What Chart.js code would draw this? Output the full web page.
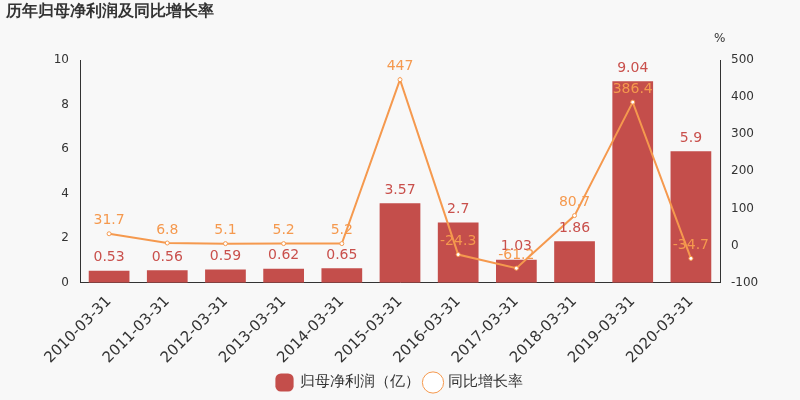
<!DOCTYPE html>
<html><head><meta charset="utf-8">
<script src="https://cdn.jsdelivr.net/npm/chart.js@4"></script>
<style>body{margin:0;background:#f8f8f8}#w{width:800px;height:400px;position:relative}</style>
</head><body><div id="w"><canvas id="c"></canvas></div>
<script>
const categories=['2010-03-31','2011-03-31','2012-03-31','2013-03-31','2014-03-31','2015-03-31','2016-03-31','2017-03-31','2018-03-31','2019-03-31','2020-03-31'];
const profit=[0.53,0.56,0.59,0.62,0.65,3.57,2.7,1.03,1.86,9.04,5.9];
const growth=[31.7,6.8,5.1,5.2,5.2,447,-24.3,-61.2,80.7,386.4,-34.7];
const FONT='"DejaVu Sans", sans-serif';
const labels={id:'labels',afterDatasetsDraw(ch){const c=ch.ctx;c.save();c.font='14px '+FONT;c.textAlign='center';c.textBaseline='bottom';
ch.getDatasetMeta(0).data.forEach((e,i)=>{c.fillStyle='#c9504c';c.fillText(String(profit[i]),e.x,e.y-6);});
ch.getDatasetMeta(1).data.forEach((e,i)=>{c.fillStyle='#f5994e';c.fillText(String(growth[i]),e.x,e.y-6);});
c.fillStyle='#333';c.font='bold 16px '+FONT;c.textAlign='left';c.textBaseline='top';c.fillText('历年归母净利润及同比增长率',6,4);
c.font='12px '+FONT;c.fillText('%',714,33);c.restore();}};
Chart.defaults.font.family=FONT;
new Chart(document.getElementById('c'),{data:{labels:categories,datasets:[
{type:'bar',label:'归母净利润（亿）',data:profit,backgroundColor:'#c44e4b',yAxisID:'y',categoryPercentage:0.7,barPercentage:1,order:2},
{type:'line',label:'同比增长率',data:growth,borderColor:'#f5994e',backgroundColor:'#fff',borderWidth:2,pointRadius:2,pointBorderWidth:1,pointBackgroundColor:'#fff',yAxisID:'y1',tension:0,order:1}]},
options:{responsive:true,maintainAspectRatio:false,animation:false,layout:{padding:{top:60,left:0,right:0,bottom:0}},
plugins:{legend:{position:'bottom',labels:{font:{size:15},color:'#333',padding:6,usePointStyle:true,
 generateLabels(ch){return [
 {text:'归母净利润（亿）',fillStyle:'#c44e4b',strokeStyle:'#c44e4b',lineWidth:0,pointStyle:'rectRounded',datasetIndex:0,fontColor:'#333'},
 {text:'同比增长率',fillStyle:'#fff',strokeStyle:'#f5994e',lineWidth:1,pointStyle:'circle',datasetIndex:1,fontColor:'#333'}];}}},tooltip:{enabled:false}},
scales:{x:{grid:{display:false},border:{color:'#333'},ticks:{color:'#333',font:{size:15},maxRotation:45,minRotation:45,padding:2}},
y:{min:0,max:10,ticks:{stepSize:2,color:'#333',font:{size:12}},grid:{display:false},border:{color:'#333'},afterFit(a){a.width=80}},
y1:{position:'right',min:-100,max:500,ticks:{stepSize:100,color:'#333',font:{size:12}},grid:{display:false},border:{color:'#333'},afterFit(a){a.width=80}}}},
plugins:[labels]});
</script></body></html>
